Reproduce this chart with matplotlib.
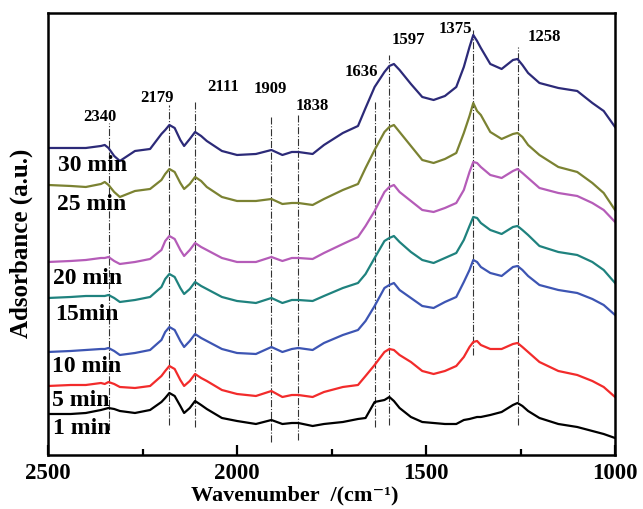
import numpy as np
import matplotlib.pyplot as plt
from matplotlib.ticker import FixedLocator

plt.rcParams['font.family'] = ['Liberation Serif', 'DejaVu Serif']
plt.rcParams['font.weight'] = 'bold'

# wavenumber grid shared by all spectra (cm-1)
wavenumber = [2500, 2440, 2400, 2360, 2350, 2340, 2325, 2310, 2270, 2230,
              2200, 2190, 2179, 2165, 2150, 2140, 2125, 2111, 2095, 2080,
              2040, 2000, 1950, 1909, 1880, 1855, 1838, 1800, 1770, 1720,
              1680, 1660, 1636, 1610, 1597, 1585, 1570, 1540, 1510, 1480,
              1450, 1420, 1400, 1385, 1375, 1365, 1355, 1330, 1300, 1270,
              1258, 1245, 1230, 1200, 1150, 1100, 1060, 1030, 1000]

# stacked absorbance (a.u., offset already included)
abs_30 = [3.07, 3.07, 3.07, 3.09, 3.10, 3.07, 2.99, 2.94, 3.04, 3.06,
          3.21, 3.25, 3.30, 3.27, 3.15, 3.09, 3.16, 3.23, 3.19, 3.14,
          3.04, 3.00, 3.01, 3.05, 3.00, 3.03, 3.03, 3.01, 3.10, 3.22,
          3.29, 3.47, 3.68, 3.83, 3.89, 3.91, 3.85, 3.71, 3.58, 3.55,
          3.59, 3.68, 3.88, 4.08, 4.20, 4.14, 4.07, 3.91, 3.86, 3.95,
          3.96, 3.90, 3.82, 3.72, 3.67, 3.64, 3.52, 3.44, 3.28]
abs_25 = [2.70, 2.69, 2.68, 2.71, 2.73, 2.70, 2.63, 2.58, 2.64, 2.66,
          2.75, 2.81, 2.86, 2.83, 2.72, 2.66, 2.71, 2.78, 2.74, 2.68,
          2.58, 2.54, 2.54, 2.56, 2.51, 2.52, 2.52, 2.50, 2.56, 2.65,
          2.71, 2.87, 3.05, 3.23, 3.28, 3.30, 3.23, 3.09, 2.95, 2.92,
          2.96, 3.02, 3.22, 3.39, 3.52, 3.44, 3.40, 3.23, 3.16, 3.21,
          3.22, 3.18, 3.10, 3.00, 2.88, 2.83, 2.72, 2.62, 2.45]
abs_20 = [1.93, 1.94, 1.95, 1.97, 1.97, 1.98, 1.94, 1.91, 1.93, 1.96,
          2.05, 2.14, 2.19, 2.16, 2.05, 1.99, 2.05, 2.12, 2.08, 2.05,
          1.97, 1.93, 1.93, 1.98, 1.94, 1.97, 1.97, 1.96, 2.02, 2.11,
          2.18, 2.29, 2.44, 2.63, 2.68, 2.70, 2.63, 2.54, 2.45, 2.43,
          2.47, 2.52, 2.65, 2.83, 2.93, 2.92, 2.88, 2.80, 2.77, 2.84,
          2.86, 2.82, 2.77, 2.67, 2.62, 2.59, 2.52, 2.45, 2.33]
abs_15 = [1.57, 1.58, 1.59, 1.59, 1.59, 1.60, 1.57, 1.53, 1.55, 1.58,
          1.68, 1.76, 1.81, 1.78, 1.67, 1.61, 1.66, 1.73, 1.69, 1.66,
          1.58, 1.54, 1.52, 1.57, 1.52, 1.55, 1.55, 1.54, 1.59, 1.67,
          1.72, 1.81, 1.97, 2.14, 2.17, 2.19, 2.13, 2.03, 1.95, 1.92,
          1.97, 2.02, 2.15, 2.29, 2.38, 2.37, 2.32, 2.25, 2.21, 2.28,
          2.29, 2.25, 2.20, 2.09, 2.03, 2.00, 1.93, 1.85, 1.72]
abs_10 = [1.03, 1.04, 1.05, 1.06, 1.06, 1.07, 1.04, 1.00, 1.02, 1.05,
          1.15, 1.23, 1.28, 1.25, 1.14, 1.08, 1.14, 1.21, 1.17, 1.14,
          1.06, 1.02, 1.01, 1.08, 1.03, 1.06, 1.07, 1.05, 1.12, 1.20,
          1.25, 1.34, 1.49, 1.67, 1.70, 1.72, 1.65, 1.57, 1.49, 1.47,
          1.53, 1.58, 1.73, 1.85, 1.95, 1.93, 1.88, 1.82, 1.79, 1.88,
          1.89, 1.85, 1.79, 1.70, 1.65, 1.62, 1.56, 1.50, 1.40]
abs_5 = [0.69, 0.70, 0.70, 0.72, 0.71, 0.73, 0.71, 0.68, 0.67, 0.69,
         0.79, 0.84, 0.89, 0.86, 0.75, 0.69, 0.74, 0.81, 0.77, 0.74,
         0.65, 0.61, 0.59, 0.64, 0.58, 0.60, 0.60, 0.58, 0.63, 0.68,
         0.70, 0.79, 0.90, 1.03, 1.06, 1.05, 1.00, 0.93, 0.84, 0.81,
         0.84, 0.89, 0.98, 1.08, 1.13, 1.14, 1.10, 1.06, 1.06, 1.11,
         1.12, 1.08, 1.03, 0.93, 0.84, 0.80, 0.74, 0.68, 0.58]
abs_1 = [0.41, 0.41, 0.42, 0.45, 0.46, 0.47, 0.46, 0.44, 0.42, 0.45,
         0.53, 0.57, 0.62, 0.59, 0.49, 0.42, 0.47, 0.54, 0.50, 0.46,
         0.37, 0.34, 0.31, 0.35, 0.31, 0.32, 0.32, 0.29, 0.31, 0.33,
         0.36, 0.37, 0.53, 0.55, 0.58, 0.54, 0.47, 0.38, 0.33, 0.32,
         0.31, 0.31, 0.35, 0.36, 0.37, 0.38, 0.38, 0.40, 0.43, 0.50,
         0.52, 0.49, 0.44, 0.37, 0.31, 0.28, 0.24, 0.21, 0.17]

spectra = [abs_1, abs_5, abs_10, abs_15, abs_20, abs_25, abs_30]
colors = ['#000000', '#f22b2b', '#3d55b3', '#1f827e', '#b55cb8', '#7b8232', '#2c2a78']
time_labels = ['1 min', '5 min', '10 min', '15min', '20 min', '25 min', '30 min']
label_x = [2487, 2489, 2489, 2481, 2487, 2476, 2474]
label_y = [0.26, 0.54, 0.88, 1.40, 1.76, 2.50, 2.89]

# marked bands: position, dash-dot line span, label position
band_pos = [2340, 2179, 2111, 1909, 1838, 1636, 1597, 1375, 1258]
band_bottom = [0.25, 0.30, 0.28, 0.13, 0.15, 0.28, 0.30, 1.00, 0.30]
band_top = [3.32, 3.50, 3.53, 3.38, 3.40, 3.53, 4.00, 4.25, 4.08]
band_text_x = [2362, 2212, 2037, 1913, 1802, 1670, 1548, 1423, 1187]
band_text_y = [3.375, 3.57, 3.675, 3.66, 3.49, 3.83, 4.15, 4.26, 4.18]

fig = plt.figure(figsize=(6.43, 5.09), dpi=100)
ax = fig.add_axes([0.0747, 0.1061, 0.8818, 0.8684])

for pos, y0, y1 in zip(band_pos, band_bottom, band_top):
    ax.plot([pos, pos], [y0, y1], color='#333333', lw=0.8, ls='-.', zorder=1)

for y, c in zip(spectra, colors):
    ax.plot(wavenumber, y, color=c, lw=1.6, zorder=2, solid_joinstyle='round')

for txt, x, y in zip(time_labels, label_x, label_y):
    ax.text(x, y, txt, fontsize=17, fontweight='bold', ha='left', va='center', zorder=3)

for pos, x, y in zip(band_pos, band_text_x, band_text_y):
    ax.text(x, y, str(pos), fontsize=12, fontweight='bold', ha='center', va='center')

ax.set_xlim(2500, 1000)
ax.set_ylim(0, 4.42)
ax.set_yticks([])
ax.xaxis.set_major_locator(FixedLocator([2500, 2000, 1500, 1000]))
ax.xaxis.set_minor_locator(FixedLocator([2250, 1750, 1250]))
ax.tick_params(axis='x', which='major', direction='in', length=7, width=1.6,
               labelsize=16.5, pad=5.5)
ax.tick_params(axis='x', which='minor', direction='in', length=4.5, width=1.6)
for sp in ax.spines.values():
    sp.set_linewidth(1.8)

ax.set_xlabel('Wavenumber  /(cm\u207b\u00b9)', fontsize=16, fontweight='bold')
ax.xaxis.label.set_va('bottom')
ax.xaxis.set_label_coords(0.436, -0.115)
ax.set_ylabel('Adsorbance (a.u.)', fontsize=18, fontweight='bold')
ax.yaxis.set_label_coords(-0.026, 0.48)

fig.savefig('out.png', dpi=100)
